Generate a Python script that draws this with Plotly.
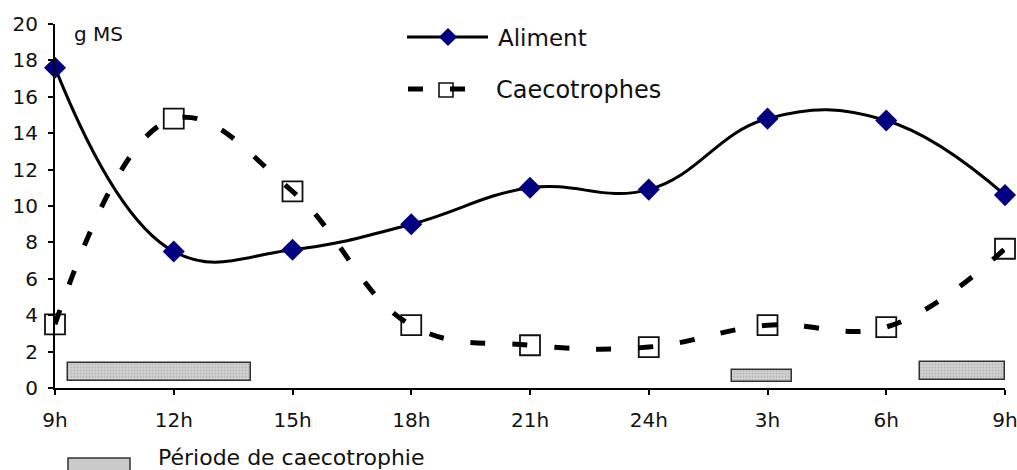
import plotly.graph_objects as go

# ---- data ----
hours = ["9h", "12h", "15h", "18h", "21h", "24h", "3h", "6h", "9h"]
aliment = [17.6, 7.5, 7.6, 9.0, 11.0, 10.9, 14.8, 14.7, 10.6]
caecotrophes = [3.5, 14.8, 10.8, 3.45, 2.35, 2.25, 3.45, 3.35, 7.65]
# caecotrophy periods (in units of tick index; 1 unit = 3 hours)
period_start = [0.11, 5.70, 7.28]
period_end = [1.65, 6.21, 8.0]
period_low = [0.38, 0.33, 0.44]
period_high = [1.37, 0.99, 1.43]

# body margin is removed by a post script, so the figure fills the window
OFF = 0
SW, SH = 1017, 470
W, H = SW - OFF, SH - OFF
FONT = "DejaVu Sans"
TXT = "#111111"
BAR_FILL = dict(color="#cacaca", line=dict(color="#333333", width=1.5),
                pattern=dict(shape=".", fgcolor="#9a9a9a", bgcolor="#d2d2d2",
                             size=3, solidity=0.35))

xi = list(range(len(hours)))

fig = go.Figure()

# caecotrophy period bars
fig.add_trace(go.Bar(
    orientation="h",
    base=period_start,
    x=[e - s for s, e in zip(period_start, period_end)],
    y=[(l + h) / 2 for l, h in zip(period_low, period_high)],
    width=[h - l for l, h in zip(period_low, period_high)],
    marker=BAR_FILL,
    showlegend=False, hoverinfo="skip", cliponaxis=False,
))

# Caecotrophes markers (under the dashed line)
fig.add_trace(go.Scatter(
    x=xi, y=caecotrophes, mode="markers",
    marker=dict(symbol="square", size=20, color="white",
                line=dict(color="#111111", width=1.8)),
    showlegend=False, hoverinfo="skip", cliponaxis=False,
))
fig.add_trace(go.Scatter(
    x=xi, y=caecotrophes, mode="lines",
    line=dict(color="#000000", width=5, dash="15px,27px", shape="spline", smoothing=1.15),
    showlegend=False, hoverinfo="skip", cliponaxis=False,
))

# Aliment
fig.add_trace(go.Scatter(
    x=xi, y=aliment, mode="lines+markers",
    line=dict(color="#000000", width=3, shape="spline", smoothing=1.2),
    marker=dict(symbol="diamond", size=17, color="#000080"),
    showlegend=False, hoverinfo="skip", cliponaxis=False,
))

# ---- manual legend (separate full-figure axes in screen pixel coordinates) ----
fig.add_trace(go.Scatter(
    x=[407, 488], y=[37, 37], mode="lines", xaxis="x2", yaxis="y2",
    line=dict(color="#000000", width=3), showlegend=False, hoverinfo="skip",
))
fig.add_trace(go.Scatter(
    x=[448], y=[37], mode="markers", xaxis="x2", yaxis="y2",
    marker=dict(symbol="diamond", size=14, color="#000080"),
    showlegend=False, hoverinfo="skip",
))
fig.add_trace(go.Scatter(
    x=[446], y=[90], mode="markers", xaxis="x2", yaxis="y2",
    marker=dict(symbol="square", size=14, color="white", line=dict(color="#111111", width=1.6)),
    showlegend=False, hoverinfo="skip",
))
fig.add_trace(go.Scatter(
    x=[408, 465], y=[89, 89], mode="lines", xaxis="x2", yaxis="y2",
    line=dict(color="#000000", width=5, dash="15px,27px"),
    showlegend=False, hoverinfo="skip",
))

shapes = [dict(type="rect", xref="x2", yref="y2", x0=68, x1=130, y0=458, y1=475,
               fillcolor="#cacaca", line=dict(color="#333333", width=1.5))]

annotations = [
    dict(text="Aliment", x=496, y=38, xref="x2", yref="y2", xanchor="left", yanchor="middle",
         showarrow=False, font=dict(family=FONT, size=23, color=TXT)),
    dict(text="Caecotrophes", x=494, y=90, xref="x2", yref="y2", xanchor="left", yanchor="middle",
         showarrow=False, font=dict(family=FONT, size=24, color=TXT)),
    dict(text="Période de caecotrophie", x=156, y=457, xref="x2", yref="y2", xanchor="left",
         yanchor="middle", showarrow=False, font=dict(family=FONT, size=22, color=TXT)),
    dict(text="g MS", x=72, y=34, xref="x2", yref="y2", xanchor="left", yanchor="middle",
         showarrow=False, font=dict(family=FONT, size=20, color=TXT)),
]

# plot area in screen pixels
x0, x1 = 55, 1005
y_top, y_bot = 24, 388

fig.update_layout(
    width=W, height=H,
    margin=dict(l=0, r=0, t=0, b=0, autoexpand=False),
    paper_bgcolor="white", plot_bgcolor="rgba(0,0,0,0)",
    showlegend=False,
    bargap=0,
    xaxis=dict(
        domain=[(x0 - OFF) / W, (x1 - OFF) / W], range=[0, 8],
        tickmode="array", tickvals=xi, ticktext=hours,
        showgrid=False, zeroline=False, automargin=False,
        showline=True, linecolor="#000000", linewidth=2,
        ticks="outside", ticklen=5, tickwidth=1.5, tickcolor="#000000",
        ticklabelstandoff=8, ticklabeloverflow="allow",
        tickfont=dict(family=FONT, size=20, color=TXT),
        fixedrange=True,
    ),
    yaxis=dict(
        domain=[(SH - y_bot) / H, (SH - y_top) / H], range=[0, 20],
        tickmode="array", tickvals=list(range(0, 21, 2)),
        showgrid=False, zeroline=False, automargin=False,
        showline=True, linecolor="#000000", linewidth=2,
        ticks="outside", ticklen=5, tickwidth=1.5, tickcolor="#000000",
        ticklabelstandoff=6, ticklabeloverflow="allow",
        tickfont=dict(family=FONT, size=20, color=TXT),
        fixedrange=True,
    ),
    xaxis2=dict(domain=[0, 1], range=[OFF, SW], visible=False, anchor="y2",
                fixedrange=True, automargin=False),
    yaxis2=dict(domain=[0, 1], range=[SH, OFF], visible=False, anchor="x2",
                fixedrange=True, automargin=False),
    shapes=shapes,
    annotations=annotations,
)

fig.write_html(
    "out.html",
    config={"displayModeBar": False},
    post_script="document.body.style.margin='0';document.body.style.overflow='hidden';",
)
